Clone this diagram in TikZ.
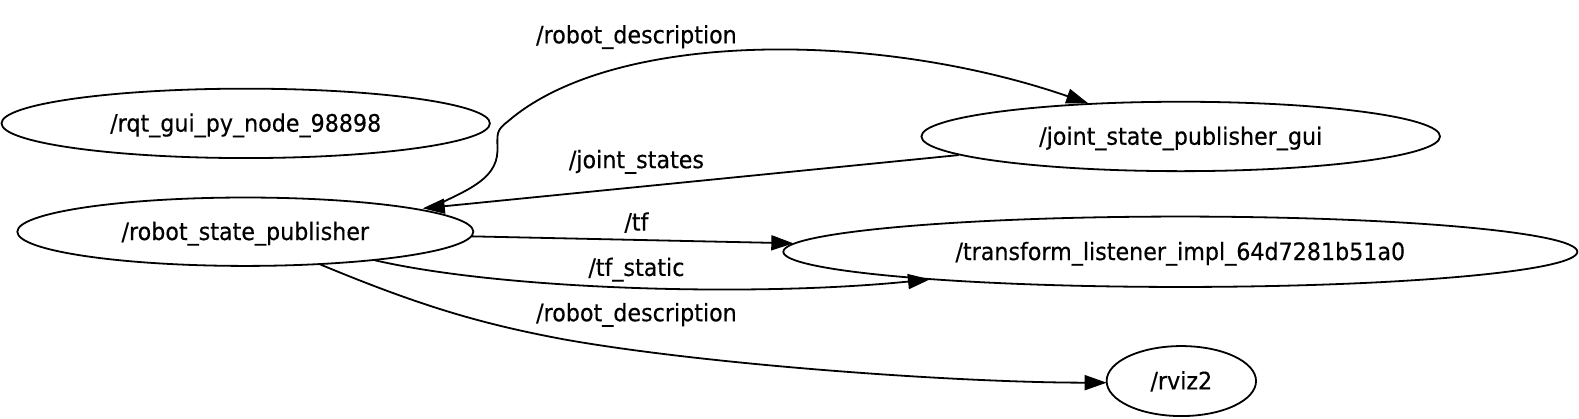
\documentclass[tikz,border=0pt]{standalone}
\usepackage{fontspec}
\setmainfont{DejaVu Sans}[FakeStretch=0.925,FakeBold=0.4]
\usetikzlibrary{shapes.geometric,arrows.meta,calc}
\begin{document}
\begin{tikzpicture}[x=1.007pt,y=-1.007pt,
  gnode/.style={ellipse,draw,line width=1.8pt,inner sep=0pt,minimum height=69.4pt,
    text height=18pt,text depth=1.4pt,font=\fontsize{24}{28}\selectfont},
  edge/.style={line width=1.8pt,-{Triangle[length=22pt,width=15pt]}},
  lbl/.style={anchor=base,font=\fontsize{24}{28}\selectfont,inner sep=0pt}]
\useasboundingbox (0,0) rectangle (1568,416);
% nodes
\node[gnode,minimum width=488.4pt] (rqt) at (244,122.5) {/rqt\_gui\_py\_node\_98898};
\node[gnode,minimum width=456pt,minimum height=68.4pt] (rsp) at (243.6,230.1) {/robot\_state\_publisher};
\node[gnode,minimum width=518.6pt] (jspg) at (1172.5,135.5) {/joint\_state\_publisher\_gui};
\node[gnode,minimum width=794pt,minimum height=70.4pt] (tl) at (1172.1,250) {/transform\_listener\_impl\_64d7281b51a0};
\node[gnode,minimum width=149.4pt,minimum height=70pt] (rviz) at (1173.1,378.4) {/rviz2};
% edges
\draw[edge] ($(rsp.center)+(182,-22.5)$) .. controls (460,190) and (493,180) .. (494,150)
  .. controls (494,132) and (492,130) .. (505,120)
  .. controls (610,30) and (870,30) .. ($(jspg.center)+(-91.8,-32.9)$);
\draw[edge] ($(jspg.center)+(-220.5,18.5)$) -- ($(rsp.center)+(176.2,-23.2)$);
\draw[edge] ($(rsp.center)+(224.4,4.6)$) -- ($(tl.center)+(-384.3,-8.4)$);
\draw[edge] ($(rsp.center)+(128.4,28.3)$) .. controls (500,288) and (750,295) .. ($(tl.center)+(-248.6,27.4)$);
\draw[edge] ($(rsp.center)+(74.4,32.5)$) .. controls (420,305) and (480,322) .. (560,337)
  .. controls (700,362) and (950,380) .. ($(rviz.center)+(-74.1,1.6)$);
% labels
\node[lbl] (l1) at (632,43) {/robot\_description};
\node[lbl] (l2) at (632,167) {/joint\_states};
\node[lbl] (l3) at (632,229) {/tf};
\node[lbl] (l4) at (632,274) {/tf\_static};
\node[lbl] (l5) at (632,319) {/robot\_description};
\end{tikzpicture}
\end{document}
